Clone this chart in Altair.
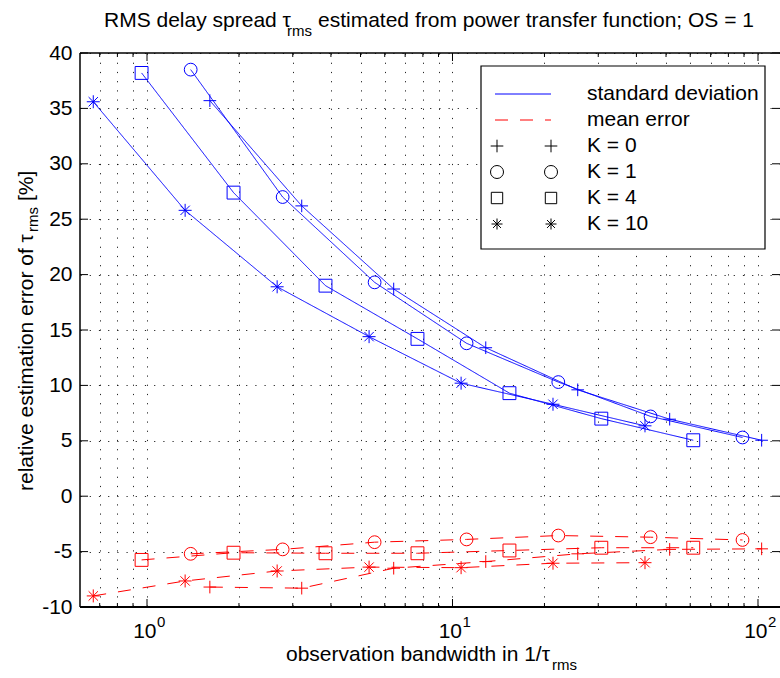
import altair as alt
import pandas as pd

# ---------------- data ----------------
K_NAMES = ["K = 0", "K = 1", "K = 4", "K = 10"]
MEASURES = ["standard deviation", "mean error"]

BW_K0 = [1.606, 3.21, 6.42, 12.85, 25.7, 51.4, 102.8]
BW_K1 = [1.39, 2.78, 5.56, 11.12, 22.2, 44.5, 89.0]
BW_K4 = [0.96, 1.92, 3.84, 7.68, 15.36, 30.7, 61.4]
BW_K10 = [0.667, 1.333, 2.667, 5.333, 10.67, 21.33, 42.67]

STD_K0 = [35.7, 26.2, 18.7, 13.4, 9.6, 6.95, 5.05]
STD_K1 = [38.5, 27.0, 19.3, 13.8, 10.3, 7.2, 5.3]
STD_K4 = [38.2, 27.4, 19.0, 14.2, 9.3, 7.0, 5.05]
STD_K10 = [35.6, 25.8, 18.9, 14.4, 10.2, 8.3, 6.35]

MEAN_K0 = [-8.2, -8.3, -6.5, -5.9, -5.2, -4.8, -4.75]
MEAN_K1 = [-5.2, -4.8, -4.15, -3.9, -3.55, -3.7, -3.95]
MEAN_K4 = [-5.75, -5.1, -5.15, -5.15, -4.9, -4.65, -4.65]
MEAN_K10 = [-9.0, -7.65, -6.75, -6.4, -6.45, -6.05, -6.0]

Y_TICKS = [-10, -5, 0, 5, 10, 15, 20, 25, 30, 35, 40]
X_MAJOR = [1, 10, 100]
X_MAJOR_EXP = ["0", "1", "2"]
X_MINOR = [0.7, 0.8, 0.9, 2, 3, 4, 5, 6, 7, 8, 9, 20, 30, 40, 50, 60, 70, 80, 90]

# ---------------- tables ----------------
rows = []
for k, xs, sd, me in [
    (K_NAMES[0], BW_K0, STD_K0, MEAN_K0),
    (K_NAMES[1], BW_K1, STD_K1, MEAN_K1),
    (K_NAMES[2], BW_K4, STD_K4, MEAN_K4),
    (K_NAMES[3], BW_K10, STD_K10, MEAN_K10),
]:
    for x, s, m in zip(xs, sd, me):
        rows.append({"K": k, "bw": x, "value": s, "measure": MEASURES[0]})
        rows.append({"K": k, "bw": x, "value": m, "measure": MEASURES[1]})
df = pd.DataFrame(rows)

major_df = pd.DataFrame({"bw": X_MAJOR, "e": X_MAJOR_EXP})
minor_df = pd.DataFrame({"bw": X_MINOR})
ytick_df = pd.DataFrame({"value": Y_TICKS})
one = pd.DataFrame({"a": [0]})

# ---------------- styling ----------------
W, H = 700, 554
FONT = "Liberation Sans"
FS = 21
FS_SUB = 15
BLUE = "#0000ff"
RED = "#ff0000"
PLUS = "M-1,0L1,0M0,-1L0,1"
ASTER = "M-1,0L1,0M0,-1L0,1M-0.72,-0.72L0.72,0.72M-0.72,0.72L0.72,-0.72"
DASH = [13, 12]

xs = alt.Scale(type="log", domain=[0.6035, 118.05], nice=False)
ys = alt.Scale(domain=[-10, 40], nice=False, zero=False)

x_axis = alt.Axis(values=X_MINOR + X_MAJOR, grid=True, gridDash=[1.2, 8], gridColor="#000000",
                  gridOpacity=0.85, gridWidth=1, labels=False, ticks=False, domain=False, title=None)
y_axis = alt.Axis(values=Y_TICKS, grid=True, gridDash=[1.2, 8], gridColor="#000000",
                  gridOpacity=0.85, gridWidth=1, ticks=False, domain=False, title=None,
                  labelFont=FONT, labelFontSize=FS, labelColor="#000000", labelPadding=8,
                  labelExpr="'' + datum.value")

X = alt.X("bw:Q", scale=xs, axis=x_axis)
Y = alt.Y("value:Q", scale=ys, axis=y_axis)
color = alt.Color("measure:N", scale=alt.Scale(domain=MEASURES, range=[BLUE, RED]), legend=None)
dash = alt.StrokeDash("measure:N", scale=alt.Scale(domain=MEASURES, range=[[1, 0], DASH]), legend=None)

lines = alt.Chart(df).mark_line(strokeWidth=1).encode(
    x=X, y=Y, color=color, strokeDash=dash, detail="K:N")

points = alt.Chart(df).mark_point(filled=False, strokeWidth=1, opacity=1).encode(
    x=X, y=Y, color=color,
    shape=alt.Shape("K:N", scale=alt.Scale(domain=K_NAMES, range=[PLUS, "circle", "square", ASTER]), legend=None),
    size=alt.Size("K:O", scale=alt.Scale(domain=K_NAMES, range=[160, 169, 130, 121]), legend=None),
)

# ticks (inward, on all visible sides)
def xticks(data, length, bottom=True):
    y0 = H if bottom else 0
    y1 = H - length if bottom else length
    return alt.Chart(data).mark_rule(color="#000000", strokeWidth=1).encode(
        x=X, y=alt.value(y0), y2=alt.value(y1))

def yticks(left=True):
    x0 = 0 if left else W
    x1 = 8 if left else W - 8
    return alt.Chart(ytick_df).mark_rule(color="#000000", strokeWidth=1).encode(
        y=Y, x=alt.value(x0), x2=alt.value(x1))

tick_layers = [
    xticks(major_df, 8, True), xticks(major_df, 8, False),
    xticks(minor_df, 4, True), xticks(minor_df, 4, False),
    yticks(True), yticks(False),
]

# box
box_top = alt.Chart(one).mark_rule(color="#000000", strokeWidth=1.5).encode(
    x=alt.value(0), x2=alt.value(W), y=alt.value(0))
box_bottom = alt.Chart(one).mark_rule(color="#000000", strokeWidth=2).encode(
    x=alt.value(0), x2=alt.value(W), y=alt.value(H))
box_left = alt.Chart(one).mark_rule(color="#000000", strokeWidth=1.5).encode(
    x=alt.value(0), y=alt.value(0), y2=alt.value(H))

# x tick labels 10^n
xlab_base = alt.Chart(major_df).mark_text(
    align="right", baseline="alphabetic", dx=9.5, font=FONT, fontSize=FS, color="#000000", text="10"
).encode(x=X, y=alt.value(H + 31))
xlab_exp = alt.Chart(major_df).mark_text(
    align="left", baseline="alphabetic", dx=10, font=FONT, fontSize=FS_SUB, color="#000000"
).encode(x=X, y=alt.value(H + 20), text="e:N")


def txt(s, x, y, size=FS, angle=0, align="left", baseline="alphabetic", color="#000000"):
    kw = dict(align=align, baseline=baseline, font=FONT, fontSize=size, color=color, text=s)
    if angle:
        kw["angle"] = angle
    return alt.Chart(one).mark_text(**kw).encode(x=alt.value(x), y=alt.value(y))


texts = [
    # title
    txt("RMS delay spread τ", 24, -26),
    txt("rms", 207, -17, FS_SUB),
    txt("estimated from power transfer function; OS = 1", 238, -26),
    # x label
    txt("observation bandwidth in 1/τ", 206, H + 54),
    txt("rms", 472, H + 63, FS_SUB),
    # y label
    txt("relative estimation error of τ", -47, 438, FS, 270),
    txt("rms", -42, 179, FS_SUB, 270),
    txt("[%]", -47, 148, FS, 270),
]

# legend box
LX0, LX1, LY0, LY1 = 401, 685, 13, 196
ROWS = [41, 67, 93, 119, 145, 171]
SYM_X = [417, 471]
TEXT_X = 507
legend_bg = alt.Chart(one).mark_rect(fill="#ffffff", stroke="#000000", strokeWidth=1.2).encode(
    x=alt.value(LX0), x2=alt.value(LX1), y=alt.value(LY0), y2=alt.value(LY1))
leg_std = alt.Chart(one).mark_rule(color=BLUE, strokeWidth=1).encode(
    x=alt.value(415), x2=alt.value(471), y=alt.value(ROWS[0]))
leg_mean = alt.Chart(one).mark_rule(color=RED, strokeWidth=1, strokeDash=DASH).encode(
    x=alt.value(415), x2=alt.value(471), y=alt.value(ROWS[1]))
legend_layers = [legend_bg, leg_std, leg_mean]
for shp, sz, ry in zip([PLUS, "circle", "square", ASTER], [160, 169, 130, 121], ROWS[2:]):
    for sx in SYM_X:
        legend_layers.append(
            alt.Chart(one).mark_point(shape=shp, size=sz, filled=False, color="#000000",
                                      strokeWidth=1, opacity=1).encode(x=alt.value(sx), y=alt.value(ry)))
for label, ry in zip(MEASURES + K_NAMES, ROWS):
    legend_layers.append(txt(label, TEXT_X, ry, FS, baseline="middle"))

chart = alt.layer(
    lines, points, *tick_layers, box_top, box_bottom, box_left,
    xlab_base, xlab_exp, *texts, *legend_layers
).properties(
    width=W, height=H,
    padding={"left": 80, "right": 0, "top": 53, "bottom": 71},
    autosize=alt.AutoSizeParams(type="none"),
    background="#ffffff",
).configure_view(stroke=None)

chart.save("out.html", embed_options={"renderer": "svg", "actions": False})
